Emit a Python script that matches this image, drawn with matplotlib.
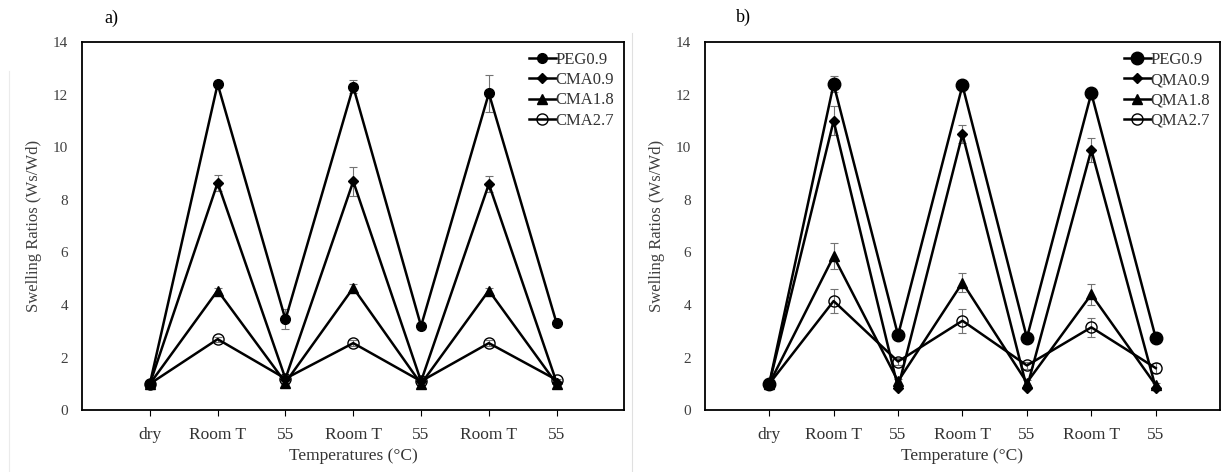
import numpy as np
import matplotlib
matplotlib.use("Agg")
from matplotlib import pyplot as plt
from matplotlib.lines import Line2D

plt.rcParams['font.family'] = ['Liberation Serif', 'DejaVu Serif']

cats = ['dry', 'Room T', '55', 'Room T', '55', 'Room T', '55']

# panel a
a_names = ['PEG0.9', 'CMA0.9', 'CMA1.8', 'CMA2.7']
a_peg = [1.0, 12.4, 3.45, 12.3, 3.2, 12.05, 3.3]
a_peg_err = [0, 0.1, 0.38, 0.25, 0.1, 0.7, 0.1]
a_c09 = [1.0, 8.65, 1.2, 8.7, 1.1, 8.6, 1.05]
a_c09_err = [0, 0.3, 0.05, 0.55, 0.05, 0.3, 0.05]
a_c18 = [1.0, 4.55, 1.05, 4.65, 1.0, 4.55, 1.0]
a_c18_err = [0, 0.1, 0.05, 0.15, 0.05, 0.1, 0.05]
a_c27 = [1.0, 2.7, 1.2, 2.55, 1.1, 2.55, 1.15]
a_c27_err = [0, 0.1, 0.05, 0.1, 0.05, 0.1, 0.05]

# panel b
b_names = ['PEG0.9', 'QMA0.9', 'QMA1.8', 'QMA2.7']
b_peg = [1.0, 12.4, 2.85, 12.35, 2.75, 12.05, 2.75]
b_peg_err = [0, 0.3, 0.1, 0.1, 0.1, 0.1, 0.1]
b_q09 = [1.0, 11.0, 0.85, 10.5, 0.85, 9.9, 0.85]
b_q09_err = [0, 0.55, 0.05, 0.35, 0.05, 0.45, 0.05]
b_q18 = [1.0, 5.85, 1.1, 4.85, 1.05, 4.4, 0.95]
b_q18_err = [0, 0.5, 0.1, 0.35, 0.1, 0.4, 0.1]
b_q27 = [1.0, 4.15, 1.85, 3.4, 1.7, 3.15, 1.6]
b_q27_err = [0, 0.45, 0.15, 0.45, 0.15, 0.35, 0.2]

markers = ['o', 'D', '^', 'o']
msizes = [7, 5, 6.5, 8]
fills = ['k', 'k', 'k', 'none']

fig = plt.figure(figsize=(12.3, 4.72), dpi=100)


def draw(ax, series, errs, names, xlabel, peg_ms):
    x = np.arange(len(cats))
    for i, (y, e) in enumerate(zip(series, errs)):
        ms = peg_ms if i == 0 else msizes[i]
        ax.errorbar(x, y, yerr=e, fmt='none', ecolor='0.45', elinewidth=0.8,
                    capsize=3, capthick=0.8, zorder=2)
        # first series on top so the filled dry markers show
        ax.plot(x, y, color='k', lw=1.8, marker=markers[i], ms=ms,
                mfc=fills[i], mec='k', mew=1.0, zorder=6 - i, label=names[i])
    ax.set_xlim(-1, 7)
    ax.set_ylim(0, 14)
    ax.set_yticks(range(0, 15, 2))
    ax.set_xticks(x)
    ax.set_xticklabels(cats)
    ax.tick_params(axis='y', length=0, labelsize=11, colors='0.25', pad=10)
    ax.tick_params(axis='x', direction='out', length=4, labelsize=12.5,
                   colors='k', labelcolor='0.2', pad=8)
    for s in ax.spines.values():
        s.set_linewidth(1.3)
    ax.set_ylabel('Swelling Ratios (Ws/Wd)', fontsize=12, color='0.25',
                  labelpad=8)
    ax.set_xlabel(xlabel, fontsize=12.5, color='0.2', labelpad=4)
    leg = ax.legend(loc='upper right', frameon=False, fontsize=12,
                    handlelength=1.6, handletextpad=0.0, labelspacing=0.25,
                    borderaxespad=0.2)
    for t in leg.get_texts():
        t.set_color('0.2')


ax1 = fig.add_axes([0.0667, 0.131, 0.441, 0.78])
draw(ax1, [a_peg, a_c09, a_c18, a_c27], [a_peg_err, a_c09_err, a_c18_err, a_c27_err],
     a_names, 'Temperatures (°C)', 7)
ax2 = fig.add_axes([0.573, 0.131, 0.419, 0.78])
draw(ax2, [b_peg, b_q09, b_q18, b_q27], [b_peg_err, b_q09_err, b_q18_err, b_q27_err],
     b_names, 'Temperature (°C)', 9)

fig.text(0.085, 0.962, 'a)', fontsize=13, ha='left', va='center')
fig.text(0.598, 0.964, 'b)', fontsize=13, ha='left', va='center')

# faint panel divider
fig.add_artist(Line2D([0.514, 0.514], [0.0, 0.93], color='0.88', lw=0.8))
fig.add_artist(Line2D([0.007, 0.007], [0.0, 0.85], color='0.92', lw=0.8))

fig.savefig('out.png', dpi=100)
